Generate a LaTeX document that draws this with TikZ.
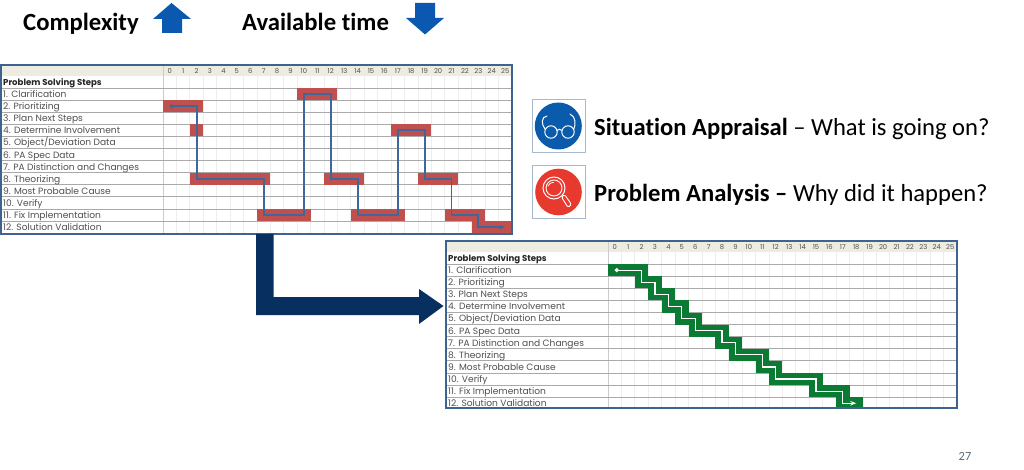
\documentclass[tikz,border=0pt]{standalone}
\usepackage{fontspec}
\setmainfont{Carlito}[Ligatures=NoCommon]
\newfontfamily\tabfont{Poppins}
\usetikzlibrary{arrows.meta}
\definecolor{navy}{HTML}{072F60}
\definecolor{apblue}{HTML}{0A58B0}
\definecolor{icoblue}{HTML}{0A5BAB}
\definecolor{icored}{HTML}{E8392E}
\definecolor{barred}{HTML}{C0504D}
\definecolor{bargreen}{HTML}{0B7A33}
\definecolor{pathblue}{HTML}{3F679C}
\definecolor{frameblue}{HTML}{3F6390}
\definecolor{headbg}{HTML}{EEECE1}
\definecolor{gridh}{HTML}{A9A9A9}
\definecolor{gridv}{HTML}{EDEDED}
\definecolor{labelgrey}{HTML}{505050}
\definecolor{pagegrey}{HTML}{5F6B7A}
\tikzset{
  bigtext/.style={font=\fontsize{24.7}{26}\selectfont\bfseries,anchor=base west,inner sep=0pt,text=black},
  sidetext/.style={font=\fontsize{24.6}{26}\selectfont,anchor=base west,inner sep=0pt,text=black},
  rowlabel/.style={font=\tabfont\fontsize{9.1}{10}\selectfont,anchor=base west,inner sep=0pt,text=labelgrey},
  titlelabel/.style={font=\tabfont\bfseries\fontsize{8.6}{10}\selectfont,anchor=base west,inner sep=0pt,text=black!85},
  collabel/.style={font=\tabfont\fontsize{6.8}{8}\selectfont,inner sep=0pt,text=labelgrey},
  icoframe/.style={draw=frameblue!45,line width=.8pt,fill=white},
  glyph/.style={draw=white,line width=1pt,fill=none,line cap=round},
}
% #1 left edge, #2 column origin x, #3 origin y, #4 right edge, #5 name prefix
\newcommand{\chartgrid}[5]{%
  \begin{scope}[shift={(#2,#3)},x=13.42pt,y=-12.1pt]
    \fill[headbg] ({(#1-#2)/13.42},-0.92) rectangle (26,0);
    \foreach \c in {1,...,25} \draw[gridv,line width=.8pt] (\c,0) -- (\c,13);
    \draw[gridv!70!gray,line width=.8pt] (0,-0.92) -- (0,13);
    \foreach \r in {1,...,12} \draw[gridh,line width=1pt] ({(#1-#2)/13.42},\r) -- (26,\r);
    \foreach \c in {0,...,25} \node[collabel] (#5c\c) at ({\c+.5},-0.42) {\c};
    \node[titlelabel] (#5t) at ({(#1-#2+2)/13.42},.78) {Problem Solving Steps};
    \foreach \r/\t in {1/{1. Clarification},2/{2. Prioritizing},3/{3. Plan Next Steps},4/{4. Determine Involvement},5/{5. Object/Deviation Data},6/{6. PA Spec Data},7/{7. PA Distinction and Changes},8/{8. Theorizing},9/{9. Most Probable Cause},10/{10. Verify},11/{11. Fix Implementation},12/{12. Solution Validation}}
      \node[rowlabel] (#5r\r) at ({(#1-#2+2)/13.42},{\r+.78}) {\t};
  \end{scope}}
\newcommand{\chartframe}[4]{\draw[frameblue,line width=1.4pt] (#1,#2) rectangle (#3,#4);}
\begin{document}
\begin{tikzpicture}[x=1pt,y=-1pt]
\useasboundingbox (0,0) rectangle (1024,470);
\fill[white] (0,0) rectangle (1024,470);

% headline
\node[bigtext] (cx) at (23,31) {Complexity};
\node[bigtext] (at) at (242,31) {Available time};
\fill[apblue] (171.5,3) -- (191,19) -- (182,19) -- (182,33) -- (162,33) -- (162,19) -- (153,19) -- cycle;
\fill[apblue] (415,3) -- (435,3) -- (435,18) -- (444,18) -- (425,34.5) -- (406,18) -- (415,18) -- cycle;

% top chart
\chartgrid{1}{163}{76}{512}{a}
\begin{scope}[shift={(163,76)},x=13.42pt,y=-12.1pt]
  \foreach \r/\p/\q in {1/10/13,2/0/3,4/2/3,8/2/8,11/7/11,8/12/15,11/14/18,4/17/20,8/19/22,11/21/24,12/23/26}
    \fill[barred] (\p,\r) rectangle (\q,\r+1);
  \draw[pathblue,line width=1.9pt,{Circle[length=4pt]}-{Stealth[length=6pt]}]
    (.5,2.5) -- (2.5,2.5) -- (2.5,8.5) -- (7.5,8.5) -- (7.5,11.5) -- (10.5,11.5) -- (10.5,1.5)
    -- (12.5,1.5) -- (12.5,8.5) -- (14.5,8.5) -- (14.5,11.5) -- (17.5,11.5) -- (17.5,4.5)
    -- (19.5,4.5) -- (19.5,8.5) -- (21.5,8.5) -- (21.5,11.5) -- (23.5,11.5) -- (23.5,12.5) -- (25.5,12.5);
\end{scope}
\chartframe{1}{65}{512}{234}

% big arrow
\fill[navy] (256,234) -- (273.5,234) -- (273.5,297) -- (419,297) -- (419,289) -- (443.5,306) -- (419,324) -- (419,315) -- (256,315) -- cycle;

% bottom chart
\chartgrid{446}{608}{252}{957}{b}
\begin{scope}[shift={(608,252)},x=13.42pt,y=-12.1pt]
  \foreach \r/\p/\q in {1/0/3,2/2/4,3/3/5,4/4/6,5/5/7,6/6/9,7/8/10,8/9/12,9/11/13,10/12/16,11/15/18,12/17/19}
    \fill[bargreen] (\p,\r) rectangle (\q,\r+1);
  \draw[white,line width=1.2pt,{Circle[length=4pt]}-{Stealth[length=6pt]}]
    (.5,1.5) -- (2.5,1.5) -- (2.5,2.5) -- (3.5,2.5) -- (3.5,3.5) -- (4.5,3.5) -- (4.5,4.5) -- (5.5,4.5)
    -- (5.5,5.5) -- (6.5,5.5) -- (6.5,6.5) -- (8.5,6.5) -- (8.5,7.5) -- (9.5,7.5) -- (9.5,8.5) -- (11.5,8.5)
    -- (11.5,9.5) -- (12.5,9.5) -- (12.5,10.5) -- (15.5,10.5) -- (15.5,11.5) -- (17.5,11.5) -- (17.5,12.5) -- (18.5,12.5);
\end{scope}
\chartframe{446}{241}{957}{408}

% icons
\draw[icoframe] (532.5,99.5) rectangle (585,152);
\fill[icoblue] (558.3,126) circle (23.5);
\draw[glyph] (551,132) circle (6.2) (568,132) circle (6.2);
\draw[glyph] (557,130.5) .. controls (558.5,128.8) and (560.5,128.8) .. (562,130.5);
\draw[glyph] (545.3,129.5) .. controls (541,124) and (541,117) .. (547,116);
\draw[glyph] (573.7,129.5) .. controls (576,124) and (576,117) .. (570,114);

\draw[icoframe] (532.5,165) rectangle (585,218);
\fill[icored] (558.5,192) circle (23.3);
\draw[glyph] (554,188) circle (11);
\draw[glyph,line width=.9pt] (554,188) circle (8);
\draw[glyph,line width=.8pt] (548,186) .. controls (549,183.5) and (551,182.5) .. (553.5,182.3);
\draw[glyph,line width=.9pt,rounded corners=1.5pt] (561.5,197) -- (564.5,194.5) -- (571.5,204.5) -- (568,207.5) -- cycle;

% side text
\node[sidetext] (sa) at (594,135.5) {\textbf{Situation Appraisal} – What is going on?};
\node[sidetext] (pa) at (594,201.5) {\textbf{Problem Analysis –} Why did it happen?};

% page number
\node[font=\fontsize{12.5}{14}\selectfont,text=pagegrey,inner sep=0pt] (pn) at (965,456) {27};
\end{tikzpicture}
\end{document}
